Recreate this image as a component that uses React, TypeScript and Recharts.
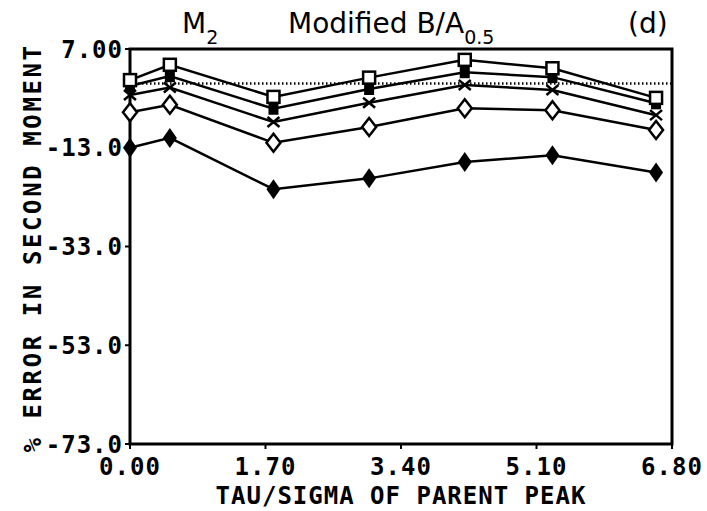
import { LineChart, Line, XAxis, YAxis, ReferenceLine, ReferenceArea } from "recharts";

// tau/sigma ratio of the parent peak
const tauSigma = [0, 0.5, 1.8, 3.0, 4.2, 5.3, 6.6];

// % error in second moment, one list per curve (top to bottom)
const openSquare = [0.7, 3.8, -2.7, 1.2, 4.8, 3.1, -2.9];
const filledSquare = [-0.5, 1.5, -5.1, -1.1, 2.3, 1.3, -4.0];
const cross = [-2.3, -0.8, -7.8, -3.9, -0.3, -1.3, -6.4];
const openDiamond = [-5.8, -4.3, -12.0, -8.8, -5.0, -5.4, -9.4];
const filledDiamond = [-13.0, -11.0, -21.4, -19.2, -15.9, -14.5, -18.0];

const xTicks = [0, 1.7, 3.4, 5.1, 6.8];
const xTickLabels = ["0.00", "1.70", "3.40", "5.10", "6.80"];
const yTicks = [7, -13, -33, -53, -73];
const yTickLabels = ["7.00", "-13.0", "-33.0", "-53.0", "-73.0"];

const data = tauSigma.map((x, i) => ({
  x,
  sq: openSquare[i],
  fsq: filledSquare[i],
  cr: cross[i],
  dm: openDiamond[i],
  fdm: filledDiamond[i],
}));

const W = 707;
const H = 511;
const plotFont = {
  fontFamily: "'DejaVu Sans Mono', monospace",
  fontWeight: 700,
  fontSize: 24,
  letterSpacing: 1,
  fill: "#000",
};

type DotProps = { cx?: number; cy?: number; index?: number };

const OpenSquareDot = ({ cx = 0, cy = 0, index }: DotProps) => (
  <rect key={index} x={cx - 6} y={cy - 6} width={12} height={12} fill="#fff" stroke="#000" strokeWidth={2.5} />
);
const FilledSquareDot = ({ cx = 0, cy = 0, index }: DotProps) => (
  <rect key={index} x={cx - 5} y={cy - 6} width={10} height={12} fill="#000" />
);
const CrossDot = ({ cx = 0, cy = 0, index }: DotProps) => (
  <path key={index} d={`M${cx - 6},${cy - 5}L${cx + 6},${cy + 5}M${cx - 6},${cy + 5}L${cx + 6},${cy - 5}`} stroke="#000" strokeWidth={2.5} />
);
const OpenDiamondDot = ({ cx = 0, cy = 0, index }: DotProps) => (
  <path key={index} d={`M${cx},${cy - 9}L${cx + 7},${cy}L${cx},${cy + 9}L${cx - 7},${cy}Z`} fill="#fff" stroke="#000" strokeWidth={2.5} />
);
const FilledDiamondDot = ({ cx = 0, cy = 0, index }: DotProps) => (
  <path key={index} d={`M${cx},${cy - 10}L${cx + 7},${cy}L${cx},${cy + 10}L${cx - 7},${cy}Z`} fill="#000" />
);

const series = [
  { key: "fdm", dot: FilledDiamondDot },
  { key: "dm", dot: OpenDiamondDot },
  { key: "cr", dot: CrossDot },
  { key: "fsq", dot: FilledSquareDot },
  { key: "sq", dot: OpenSquareDot },
];

export default function App() {
  return (
    <div style={{ position: "absolute", left: 0, top: 0, width: W, height: H, background: "#fff" }}>
      <LineChart width={W} height={H} data={data} margin={{ top: 49, right: 35, bottom: 0, left: 0 }}>
        <XAxis
          dataKey="x"
          type="number"
          domain={[0, 6.8]}
          ticks={xTicks}
          tickFormatter={(v: number) => xTickLabels[xTicks.indexOf(v)] ?? String(v)}
          height={67}
          axisLine={false}
          tickSize={5}
          tickMargin={9}
          tickLine={{ stroke: "#000", strokeWidth: 2 }}
          tick={plotFont}
          label={{
            content: () => (
              <text x={401} y={496} textAnchor="middle" dominantBaseline="central" {...plotFont}>
                TAU/SIGMA OF PARENT PEAK
              </text>
            ),
          }}
        />
        <YAxis
          type="number"
          domain={[-73, 7]}
          ticks={yTicks}
          tickFormatter={(v: number) => yTickLabels[yTicks.indexOf(v)] ?? String(v)}
          width={130}
          axisLine={false}
          tickSize={5}
          tickMargin={2}
          tickLine={{ stroke: "#000", strokeWidth: 2 }}
          tick={plotFont}
          label={{
            content: () => (
              <text
                x={33}
                y={248}
                transform="rotate(-90 33 248)"
                textAnchor="middle"
                dominantBaseline="central"
                {...plotFont}
                letterSpacing={2.6}
              >
                % ERROR IN SECOND MOMENT
              </text>
            ),
          }}
        />
        <ReferenceArea x1={0} x2={6.8} y1={-73} y2={7} fill="none" stroke="#000" strokeWidth={3} />
        <ReferenceLine y={0} stroke="#000" strokeWidth={2.5} strokeDasharray="1.5 2.5" />
        {series.map((s) => (
          <Line
            key={s.key}
            dataKey={s.key}
            stroke="#000"
            strokeWidth={2.5}
            dot={s.dot}
            activeDot={false}
            isAnimationActive={false}
          />
        ))}
      </LineChart>
      <svg width={W} height={60} style={{ position: "absolute", left: 0, top: 0 }}>
        <g fontFamily="'DejaVu Sans', sans-serif" fill="#000">
          <text x={182} y={33} fontSize={28}>
            M<tspan fontSize={19} dy={11}>2</tspan>
          </text>
          <text x={288} y={33} fontSize={28}>
            Modified B/A<tspan fontSize={19} dy={11}>0.5</tspan>
          </text>
          <text x={628} y={33} fontSize={28}>
            (d)
          </text>
        </g>
      </svg>
    </div>
  );
}
